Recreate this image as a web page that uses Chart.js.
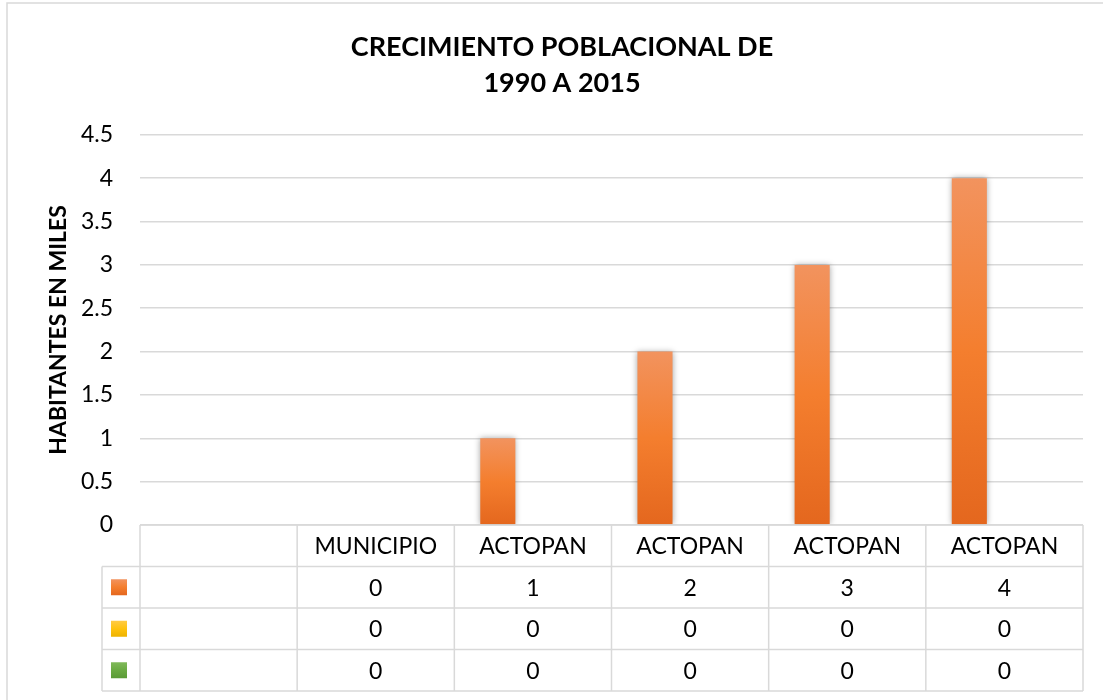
<!DOCTYPE html>
<html lang="es">
<head>
  <meta charset="UTF-8">
  <title>Crecimiento poblacional de 1990 a 2015</title>
  <script src="https://cdn.jsdelivr.net/npm/chart.js"></script>
  <style>
    html, body { margin: 0; padding: 0; background: #fff; }
    #wrap { width: 1103px; height: 700px; position: relative; }
  </style>
</head>
<body>
<div id="wrap"><canvas id="myChart"></canvas></div>

<script>
  // Data
  const categories = ['', 'MUNICIPIO', 'ACTOPAN', 'ACTOPAN', 'ACTOPAN', 'ACTOPAN'];
  const seriesOrange = [null, 0, 1, 2, 3, 4];
  const seriesYellow = [null, 0, 0, 0, 0, 0];
  const seriesGreen = [null, 0, 0, 0, 0, 0];
  const yMin = 0, yMax = 4.5, yStep = 0.5;

  const FONT = 'Lato, "Noto Sans", sans-serif';

  const palettes = [
    ['#F2935E', '#F47E2E', '#E4671E'],
    ['#FFCB45', '#FFC20E', '#EDB300'],
    ['#80B95A', '#6AAA42', '#5A9A36']
  ];

  // vertical gradient for each bar, from its own top to the base
  function barFill(idx) {
    return function(c) {
      const chart = c.chart;
      const stops = palettes[idx];
      if (!chart.chartArea || c.raw == null) return stops[1];
      const y = chart.scales.y;
      const top = y.getPixelForValue(c.raw);
      const base = y.getPixelForValue(0);
      if (Math.abs(base - top) < 1) return stops[1];
      const g = chart.ctx.createLinearGradient(0, top, 0, base);
      g.addColorStop(0, stops[0]);
      g.addColorStop(0.5, stops[1]);
      g.addColorStop(1, stops[2]);
      return g;
    };
  }

  // soft shadow behind the columns
  const shadowPlugin = {
    id: 'shadow',
    beforeDatasetsDraw(chart) {
      const ctx = chart.ctx;
      ctx.save();
      ctx.shadowColor = 'rgba(0,0,0,0.35)';
      ctx.shadowBlur = 6;
      ctx.shadowOffsetX = 0;
      ctx.shadowOffsetY = 0;
    },
    afterDatasetsDraw(chart) {
      chart.ctx.restore();
    }
  };

  // outer frame + data table under the plot
  const tablePlugin = {
    id: 'dataTable',
    beforeDraw(chart) {
      const ctx = chart.ctx;
      ctx.save();
      ctx.strokeStyle = '#d9d9d9';
      ctx.lineWidth = 1.5;
      ctx.beginPath();
      ctx.moveTo(7, 700);
      ctx.lineTo(7, 3);
      ctx.lineTo(1103, 3);
      ctx.stroke();
      ctx.restore();
    },
    afterDraw(chart) {
      const ctx = chart.ctx;
      const x = chart.scales.x;
      const area = chart.chartArea;
      const n = categories.length;
      const catW = (area.right - area.left) / n;
      const rowH = 41.5;
      const top = area.bottom;
      const keyLeft = 102;
      const series = [seriesOrange, seriesYellow, seriesGreen];
      const bottom = top + rowH * (series.length + 1);

      ctx.save();
      ctx.strokeStyle = '#d9d9d9';
      ctx.lineWidth = 1.5;
      ctx.beginPath();
      // horizontal lines
      ctx.moveTo(area.left, top); ctx.lineTo(area.right, top);
      for (let r = 1; r <= series.length + 1; r++) {
        ctx.moveTo(keyLeft, top + rowH * r);
        ctx.lineTo(area.right, top + rowH * r);
      }
      // vertical lines
      ctx.moveTo(keyLeft, top + rowH); ctx.lineTo(keyLeft, bottom);
      for (let i = 0; i <= n; i++) {
        const xx = area.left + catW * i;
        ctx.moveTo(xx, top); ctx.lineTo(xx, bottom);
      }
      ctx.stroke();

      ctx.fillStyle = '#000';
      ctx.font = '23px ' + FONT;
      ctx.textAlign = 'center';
      ctx.textBaseline = 'middle';
      categories.forEach((lab, i) => {
        ctx.fillText(lab, x.getPixelForValue(i), top + rowH / 2 + 1);
      });
      series.forEach((vals, s) => {
        const cy = top + rowH * (s + 1.5);
        vals.forEach((v, i) => {
          if (v == null) return;
          ctx.fillText(String(v), x.getPixelForValue(i), cy + 1);
        });
        // legend key
        const st = palettes[s];
        const g = ctx.createLinearGradient(0, cy - 8, 0, cy + 8);
        g.addColorStop(0, st[0]); g.addColorStop(0.5, st[1]); g.addColorStop(1, st[2]);
        ctx.fillStyle = g;
        ctx.fillRect(111, cy - 8, 16, 16);
        ctx.fillStyle = '#000';
      });
      ctx.restore();
    }
  };

  const data = {
    labels: categories,
    datasets: [
      { label: '', data: seriesOrange, backgroundColor: barFill(0) },
      { label: '', data: seriesYellow, backgroundColor: barFill(1) },
      { label: '', data: seriesGreen, backgroundColor: barFill(2) }
    ]
  };

  const config = {
    type: 'bar',
    data: data,
    plugins: [shadowPlugin, tablePlugin],
    options: {
      responsive: true,
      maintainAspectRatio: false,
      animation: false,
      datasets: {
        bar: { categoryPercentage: 0.67, barPercentage: 1.0, borderWidth: 0 }
      },
      layout: { padding: { left: 41, right: 20, top: 0, bottom: 175 } },
      plugins: {
        legend: { display: false },
        tooltip: { enabled: false },
        title: {
          display: true,
          text: ['CRECIMIENTO POBLACIONAL DE', '1990 A 2015'],
          color: '#000',
          font: { family: FONT, size: 27, weight: 'bold', lineHeight: 1.33 },
          padding: { top: 29, bottom: 34 }
        }
      },
      scales: {
        x: { display: false },
        y: {
          min: yMin,
          max: yMax,
          afterFit(scale) { scale.width = 99; },
          ticks: {
            stepSize: yStep,
            color: '#000',
            padding: 27,
            font: { family: FONT, size: 23 },
            callback: (v) => String(v)
          },
          grid: { color: '#d9d9d9', lineWidth: 1.5, drawTicks: false },
          border: { display: false },
          title: {
            display: true,
            text: 'HABITANTES EN MILES',
            color: '#000',
            font: { family: FONT, size: 23, weight: 'bold' }
          }
        }
      }
    }
  };

  const ctx = document.getElementById('myChart').getContext('2d');
  new Chart(ctx, config);
</script>
</body>
</html>
